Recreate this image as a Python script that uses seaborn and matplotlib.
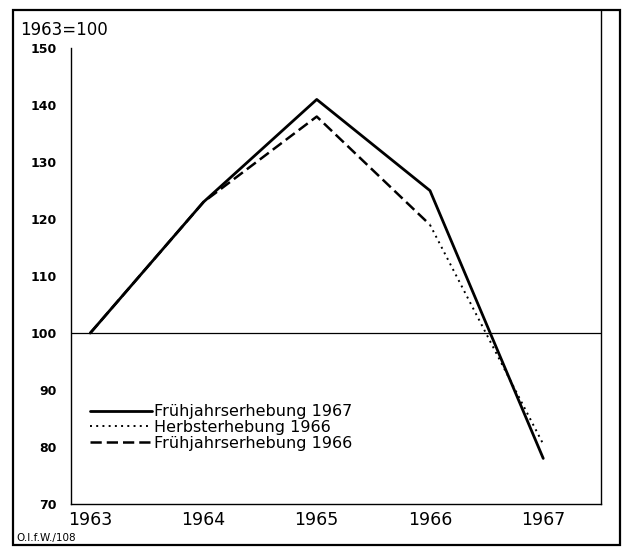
import matplotlib
matplotlib.use("Agg")
import matplotlib.pyplot as plt
import seaborn as sns
import pandas as pd
from matplotlib.patches import Rectangle

# values (1963 = 100)
years = [1963, 1964, 1965, 1966, 1967]
fruehjahr_1967 = [100, 123, 141, 125, 78]
fruehjahr_1966 = [100, 123, 138, 119]
# autumn survey only visible apart from the dashed line after 1966
herbst_years = [1966, 1967]
herbst_1966 = [119, 80.5]
y_ticks = [70, 80, 90, 100, 110, 120, 130, 140, 150]

sns.set_style("white")
plt.rcParams['font.family'] = ['DejaVu Sans']
plt.rcParams['text.color'] = 'black'
plt.rcParams['axes.labelcolor'] = 'black'
plt.rcParams['xtick.color'] = 'black'
plt.rcParams['ytick.color'] = 'black'

fig = plt.figure(figsize=(6.22, 5.49), dpi=100)
ax = fig.add_axes([71 / 622, 1 - 504 / 549, 530 / 622, 494 / 549])

df1 = pd.DataFrame({'Jahr': years, 'Index': fruehjahr_1967})
df2 = pd.DataFrame({'Jahr': herbst_years, 'Index': herbst_1966})
df3 = pd.DataFrame({'Jahr': years[:4], 'Index': fruehjahr_1966})

# reference line at 100
ax.axhline(100, color='black', lw=0.9, zorder=1)

sns.lineplot(data=df2, x='Jahr', y='Index', ax=ax, color='black', lw=1.4,
             linestyle=(0, (1, 2.2)), label='Herbsterhebung 1966')
sns.lineplot(data=df3, x='Jahr', y='Index', ax=ax, color='black', lw=1.8,
             linestyle=(0, (4.5, 2)), label='Frühjahrserhebung 1966')
sns.lineplot(data=df1, x='Jahr', y='Index', ax=ax, color='black', lw=2.0,
             label='Frühjahrserhebung 1967')

ax.set_xlim(1962.83, 1967.51)
ax.set_ylim(70, 156.7)
ax.set_xticks(years)
ax.set_xticklabels([str(y) for y in years])
ax.set_yticks(y_ticks)
ax.set_xlabel('')
ax.set_ylabel('')

for side in ['left', 'right', 'bottom', 'top']:
    ax.spines[side].set_color('black')
    ax.spines[side].set_linewidth(1.0)
ax.spines['left'].set_bounds(70, 150)
ax.spines['top'].set_visible(False)

ax.tick_params(axis='y', direction='in', length=7, width=1, pad=10,
               labelsize=9, colors='black')
ax.tick_params(axis='x', direction='in', length=12, width=1, pad=5,
               labelsize=12.5, colors='black')
for lbl in ax.get_yticklabels():
    lbl.set_fontweight('bold')

# legend in order of the original
h, l = ax.get_legend_handles_labels()
order = [l.index('Frühjahrserhebung 1967'), l.index('Herbsterhebung 1966'),
         l.index('Frühjahrserhebung 1966')]
leg = ax.legend([h[i] for i in order], [l[i] for i in order], loc='center left',
                bbox_to_anchor=(0.036, 0.155), frameon=False, fontsize=11.5,
                handlelength=3.9, handletextpad=0.1, labelspacing=0.05,
                borderpad=0, borderaxespad=0)
for t in leg.get_texts():
    t.set_color('black')

# outer frame
fig.add_artist(Rectangle((13 / 622, 1 - 545 / 549), 607 / 622, 535 / 549,
                         transform=fig.transFigure, fill=False,
                         edgecolor='black', lw=1.6))

fig.text(20 / 622, 1 - 30 / 549, '1963=100', fontsize=12, va='center',
         ha='left', color='black')
fig.text(16 / 622, 1 - 538 / 549, 'O.I.f.W./108', fontsize=7.5, va='center',
         ha='left', color='black')

fig.savefig('out.png', dpi=100, facecolor='white')
